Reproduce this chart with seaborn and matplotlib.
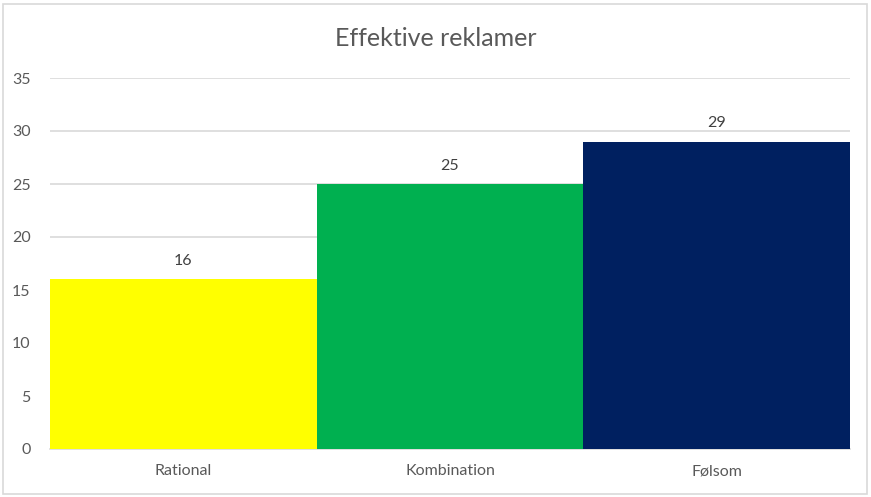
import matplotlib
matplotlib.use("Agg")
import matplotlib.pyplot as plt
import seaborn as sns
import pandas as pd
from matplotlib.patches import Rectangle

categories = ["Rational", "Kombination", "Følsom"]
values = [16, 25, 29]
colors = ["#FFFF00", "#00B050", "#002060"]
yticks = [0, 5, 10, 15, 20, 25, 30, 35]
title = "Effektive reklamer"

sns.set_theme(style="white")
plt.rcParams["font.family"] = ["Lato", "DejaVu Sans"]

df = pd.DataFrame({"cat": categories, "val": values})

fig = plt.figure(figsize=(8.71, 4.97), dpi=100)
ax = fig.add_axes([50/871, 48/497, 800/871, 371/497])

sns.barplot(data=df, x="cat", y="val", hue="cat", palette=colors, width=1.0,
            legend=False, ax=ax, saturation=1, zorder=3, linewidth=0, edgecolor="none")

ax.set_ylim(0, 35)
ax.set_xlim(-0.5, 2.5)
ax.set_yticks(yticks)
ax.yaxis.grid(True, color="#D9D9D9", linewidth=1.2, zorder=0)
ax.set_axisbelow(True)
for s in ["top", "right", "left"]:
    ax.spines[s].set_visible(False)
ax.spines["bottom"].set_color("#D9D9D9")
ax.spines["bottom"].set_linewidth(1.2)
ax.set_xlabel("")
ax.set_ylabel("")
ax.tick_params(axis="both", length=0, labelsize=11.5, colors="#595959", pad=11)
ax.tick_params(axis="y", pad=14)

for i, v in enumerate(values):
    ax.annotate(str(v), xy=(i, v), xytext=(0, 8), textcoords="offset points",
                ha="center", va="bottom", fontsize=11.5, color="#404040")

fig.text(0.5, 1 - 38/497, title, ha="center", va="center", fontsize=18, color="#595959")

fig.patches.append(Rectangle((3/871, 3/497), 864/871, 490/497, transform=fig.transFigure,
                             fill=False, edgecolor="#D9D9D9", linewidth=1.2))

fig.savefig("out.png", dpi=100, facecolor="white")
